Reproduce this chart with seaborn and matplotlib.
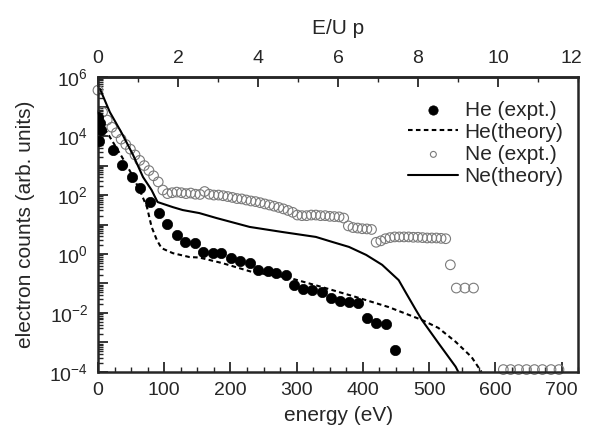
import numpy as np
import matplotlib
matplotlib.use("Agg")
import matplotlib.pyplot as plt
import matplotlib.transforms as mtrans
from matplotlib.ticker import MultipleLocator, FixedLocator, LogLocator, FuncFormatter, NullFormatter
import seaborn as sns

# ---------------- data ----------------
he_expt_E = [0.5, 2.5, 5, 1, 22.5, 36, 51, 63, 78, 92, 105, 119, 132, 146, 159, 173, 186,
             201, 215, 229, 242, 256, 269, 284, 296, 310, 323, 338, 352, 365, 379, 392,
             406, 420, 435, 448]
he_expt_I = [4.4e4, 2.8e4, 1.6e4, 6.9e3, 3.4e3, 1.05e3, 410, 174, 58, 24.5, 10.5, 4.4, 2.6, 2.3,
             1.17, 1.07, 1.07, 0.72, 0.58, 0.49, 0.29, 0.26, 0.23, 0.195, 0.089, 0.065, 0.060,
             0.051, 0.032, 0.026, 0.023, 0.022, 0.0068, 0.0046, 0.0043, 5.6e-4]

he_theo_E = [10, 18, 36, 50, 63, 74, 81, 89, 96, 113, 138, 153, 188, 233, 289, 338, 389,
             439, 489, 514, 540, 564, 579]
he_theo_I = [1.8e4, 9.3e3, 2.0e3, 560, 148, 39, 8.3, 2.95, 1.58, 1.07, 0.79, 0.76, 0.49,
             0.245, 0.155, 0.076, 0.035, 0.0158, 0.0058, 0.0031, 0.00105, 3.2e-4, 1.0e-4]

ne_expt_E = [0, 7, 14, 21, 28, 35, 42, 49, 56, 63, 70, 77, 84, 91, 98, 105, 112, 119, 126,
             133, 140, 147, 154, 161, 168, 175, 182, 189, 196, 203, 210, 217, 224, 231, 238,
             245, 252, 259, 266, 273, 280, 287, 294, 301, 308, 315, 322, 329, 336, 343, 350,
             357, 364, 371, 378, 385, 392, 399, 406, 413, 420, 427, 434, 441, 448, 455, 462,
             469, 476, 483, 490, 497, 504, 511, 518, 525, 532, 541, 554, 567,
             612, 623, 635, 647, 659, 671, 684, 696]
ne_expt_I = [3.6e5, 6.5e4, 3.5e4, 2.0e4, 1.3e4, 7.9e3, 5.2e3, 3.6e3, 2.3e3, 1.5e3, 1.0e3, 680,
             450, 280, 148, 112, 120, 126, 120, 112, 117, 107, 105, 132, 107, 100, 100, 95, 89,
             83, 76, 74, 68, 63, 60, 55, 50, 46, 42, 38, 34, 30, 26, 21, 20, 20, 21, 21, 20,
             20, 19, 18.6, 18.2, 16.6, 9.0, 7.9, 7.6, 7.2, 7.1, 6.8, 2.5, 2.8, 3.3, 3.6, 3.8,
             3.8, 3.8, 3.8, 3.7, 3.7, 3.6, 3.5, 3.5, 3.5, 3.4, 3.3, 0.43, 0.07, 0.07, 0.07,
             1.2e-4, 1.2e-4, 1.2e-4, 1.2e-4, 1.2e-4, 1.2e-4, 1.2e-4, 1.2e-4]

ne_theo_E = [3, 18, 36, 53, 68, 81, 90, 113, 128, 153, 179, 229, 278, 329, 353, 379, 405,
             429, 454, 465, 480, 489, 514, 540, 544]
ne_theo_I = [4.0e5, 6.5e4, 1.26e4, 2.3e3, 410, 148, 58, 39, 31, 24.5, 16.6, 8.3, 5.6, 3.8,
             2.6, 1.74, 0.93, 0.43, 0.13, 0.048, 0.0126, 0.0058, 9.5e-4, 1.5e-4, 1.0e-4]

UP = 60.4  # eV per Up (top axis scale)
top_ticks = [0, 2, 4, 6, 8, 10]
top_last_label = "12"

# ---------------- style ----------------
sns.set_style("ticks")
plt.rcParams["font.family"] = ["Liberation Sans", "DejaVu Sans"]
plt.rcParams["mathtext.fontset"] = "custom"
plt.rcParams["mathtext.rm"] = "Liberation Sans"
plt.rcParams["mathtext.it"] = "Liberation Sans:italic"
plt.rcParams["mathtext.default"] = "regular"

fig = plt.figure(figsize=(5.9, 4.36), dpi=100)
ax = fig.add_axes([0.166, 0.147, 0.814, 0.676])

sns.scatterplot(x=he_expt_E, y=he_expt_I, ax=ax, color="black", edgecolor="black",
                s=55, marker="o", linewidth=0.5, label="He (expt.)", zorder=3)
sns.lineplot(x=he_theo_E, y=he_theo_I, ax=ax, color="black", lw=1.5,
             linestyle=(0, (2.2, 1.6)), label="He(theory)", sort=False, estimator=None)
sns.scatterplot(x=ne_expt_E, y=ne_expt_I, ax=ax, marker="o", s=48,
                facecolors="none", edgecolor="#7a7a7a", linewidth=0.8,
                label="Ne (expt.)", clip_on=False, zorder=2)
sns.lineplot(x=ne_theo_E, y=ne_theo_I, ax=ax, color="black", lw=1.5,
             label="Ne(theory)", sort=False, estimator=None)

ax.set_yscale("log")
ax.set_xlim(0, 725)
ax.set_ylim(1e-4, 1e6)

ax.yaxis.set_major_locator(LogLocator(base=10, numticks=20))
ax.yaxis.set_minor_locator(LogLocator(base=10, subs=np.arange(2, 10), numticks=50))
def yfmt(v, p):
    e = int(round(np.log10(v)))
    return r"$10^{%d}$" % e if e % 2 == 0 else ""
ax.yaxis.set_major_formatter(FuncFormatter(yfmt))
ax.yaxis.set_minor_formatter(NullFormatter())

ax.xaxis.set_major_locator(MultipleLocator(100))
ax.xaxis.set_minor_locator(MultipleLocator(25))

ax.tick_params(axis="both", which="major", direction="in", length=7, width=1.3,
               labelsize=14, pad=7)
ax.tick_params(axis="both", which="minor", direction="in", length=3.5, width=1.0)
ax.tick_params(right=False, top=False, which="both")

for sp in ax.spines.values():
    sp.set_linewidth(1.8)
    sp.set_visible(True)

ax.set_xlabel("energy (eV)", fontsize=15, labelpad=5)
ax.set_ylabel("electron counts (arb. units)", fontsize=15, labelpad=10)

sec = ax.secondary_xaxis("top", functions=(lambda e: e / UP, lambda r: r * UP))
sec.xaxis.set_major_locator(FixedLocator(top_ticks))
sec.xaxis.set_minor_locator(MultipleLocator(1))
sec.xaxis.set_major_formatter(FuncFormatter(lambda v, p: "%d" % int(round(v))))
sec.tick_params(axis="x", which="major", direction="in", length=7, width=1.3,
                labelsize=14, pad=7)
sec.tick_params(axis="x", which="minor", direction="in", length=3.5, width=1.0)
sec.spines["top"].set_linewidth(1.8)
sec.set_xlabel("E/U p", fontsize=15, labelpad=12)

# last top-axis label, kept inside the figure (right-aligned, as in the reference)
ax.text(1.0, 1.0, top_last_label, fontsize=14, ha="right", va="bottom",
        transform=ax.transAxes + mtrans.ScaledTranslation(3 / 72, 7 / 72, fig.dpi_scale_trans))

leg = ax.legend(loc="upper right", frameon=False, fontsize=15, handlelength=2.4,
                handletextpad=0.3, labelspacing=0.15, borderaxespad=0.3,
                bbox_to_anchor=(1.0, 0.97))
sizes = [45, None, 18, None]
for h, s in zip(leg.legend_handles, sizes):
    if s is not None:
        h.set_sizes([s])

fig.savefig("out.png", dpi=100)
